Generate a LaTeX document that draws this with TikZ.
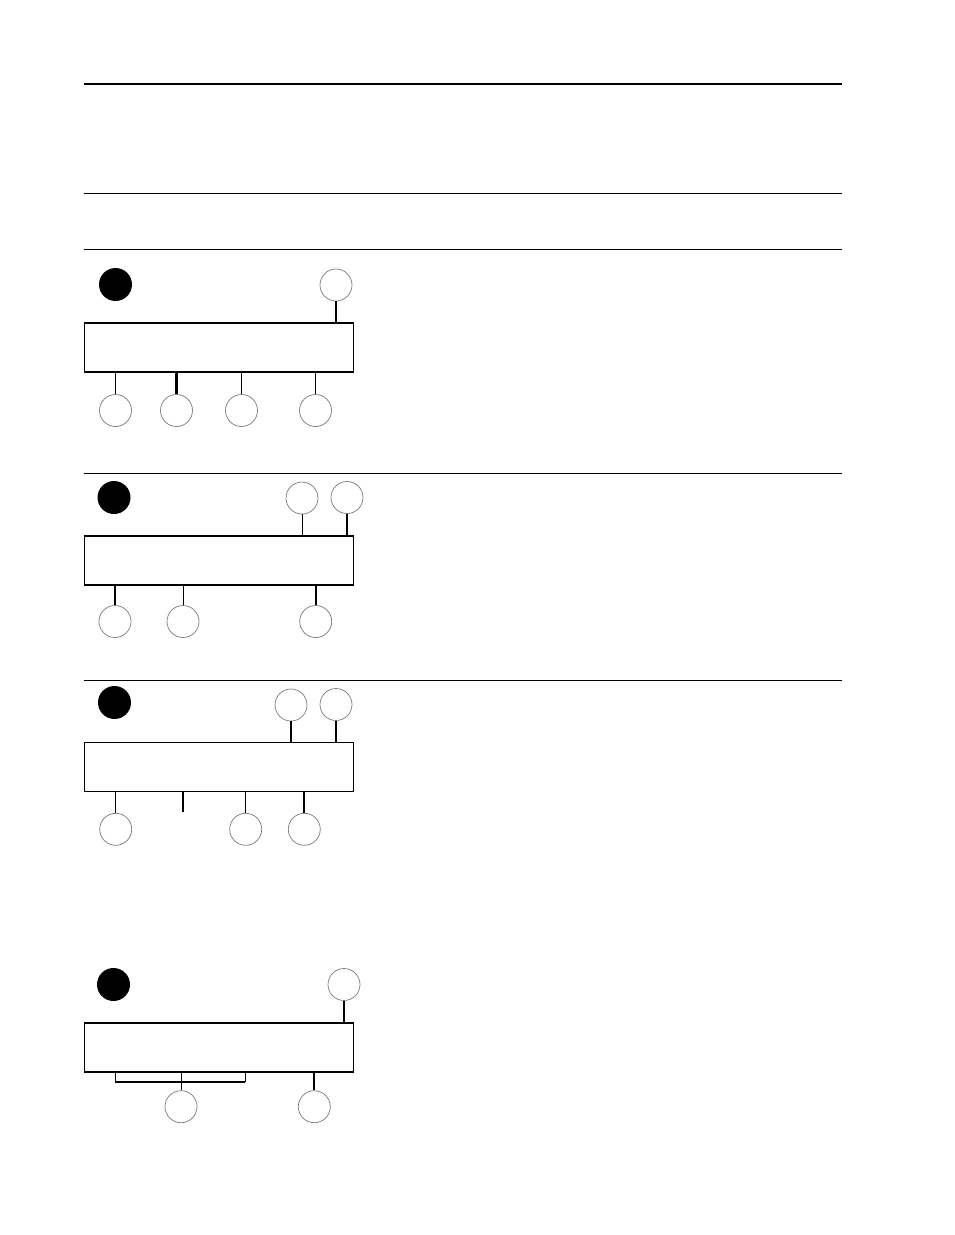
\documentclass[tikz,border=0pt]{standalone}
\usepackage{xcolor}
\usepackage{tikz}
\usetikzlibrary{calc}
\definecolor{ink}{HTML}{000000}
\definecolor{rim}{HTML}{7A7A7A}
\tikzset{
  rule/.style={draw=ink, line width=1pt},
  ruleb/.style={draw=ink, line width=2pt},
  panel/.style={draw=ink, line width=1.5pt, minimum width=269pt, minimum height=49pt, inner sep=0pt},
  bub/.style={circle, draw=rim, line width=0.7pt, minimum size=32pt, inner sep=0pt},
  num/.style={circle, fill=ink, minimum size=33pt, inner sep=0pt},
  lead/.style={draw=ink, line width=1pt},
  leadb/.style={draw=ink, line width=2.2pt},
}
\begin{document}
\begin{tikzpicture}[x=1pt,y=-1pt]
  \useasboundingbox (0,0) rectangle (954,1235);
  % rules
  \draw[ruleb] (84,84) -- (842,84);
  \foreach \y in {193,249,473,680}
    \draw[rule] (84,\y) -- (842,\y);
  % panel 1
  \node[num] (n1) at (115.5,284.5) {};
  \node[panel] (p1) at (219,347.5) {};
  \node[bub] (a1) at (336,285) {};
  \foreach \X/\x in {b1/115.5,c1/176.5,d1/241.5,e1/315.5}
    \node[bub] (\X) at (\x,410.5) {};
  \draw[leadb] (a1) -- (a1 |- p1.north);
  \draw[lead] (b1) -- (b1 |- p1.south);
  \draw[leadb] (c1) -- (c1 |- p1.south);
  \draw[lead] (d1) -- (d1 |- p1.south);
  \draw[lead] (e1) -- (e1 |- p1.south);
  % panel 2
  \node[num] (n2) at (114,497.5) {};
  \node[panel] (p2) at (219,560.3) {};
  \node[bub] (f2) at (302,498) {};
  \node[bub] (g2) at (347,497.5) {};
  \foreach \X/\x in {b2/115,c2/183,d2/315.7}
    \node[bub] (\X) at (\x,621.5) {};
  \draw[lead] (f2) -- (f2 |- p2.north);
  \draw[leadb] (g2) -- (g2 |- p2.north);
  \draw[leadb] (b2) -- (b2 |- p2.south);
  \draw[lead] (c2) -- (c2 |- p2.south);
  \draw[leadb] (d2) -- (d2 |- p2.south);
  % panel 3
  \node[num] (n3) at (114.5,702.5) {};
  \node[panel] (p3) at (219,767) {};
  \node[bub] (f3) at (291,705) {};
  \node[bub] (g3) at (336,704.5) {};
  \foreach \X/\x in {b3/115.7,c3/245.7,d3/304.3}
    \node[bub] (\X) at (\x,829.3) {};
  \coordinate (s3) at (182.7,811.7);
  \draw[leadb] (f3) -- (f3 |- p3.north);
  \draw[leadb] (g3) -- (g3 |- p3.north);
  \draw[lead] (b3) -- (b3 |- p3.south);
  \draw[leadb] (s3) -- (s3 |- p3.south);
  \draw[lead] (c3) -- (c3 |- p3.south);
  \draw[leadb] (d3) -- (d3 |- p3.south);
  % panel 4
  \node[num] (n4) at (113.5,984.5) {};
  \node[panel] (p4) at (219,1047.3) {};
  \node[bub] (a4) at (344,984.5) {};
  \node[bub] (b4) at (181,1106.7) {};
  \node[bub] (c4) at (314.3,1106.7) {};
  \coordinate (k1) at (115.3,1081.7);
  \coordinate (k2) at (245.3,1081.7);
  \draw[leadb] (a4) -- (a4 |- p4.north);
  \draw[lead] (k1 |- p4.south) -- (k1);
  \draw[lead] (k2 |- p4.south) -- (k2);
  \draw[leadb] (k1) -- (k2); % bracket
  \draw[lead] (b4) -- (b4 |- p4.south);
  \draw[leadb] (c4) -- (c4 |- p4.south);
\end{tikzpicture}
\end{document}
